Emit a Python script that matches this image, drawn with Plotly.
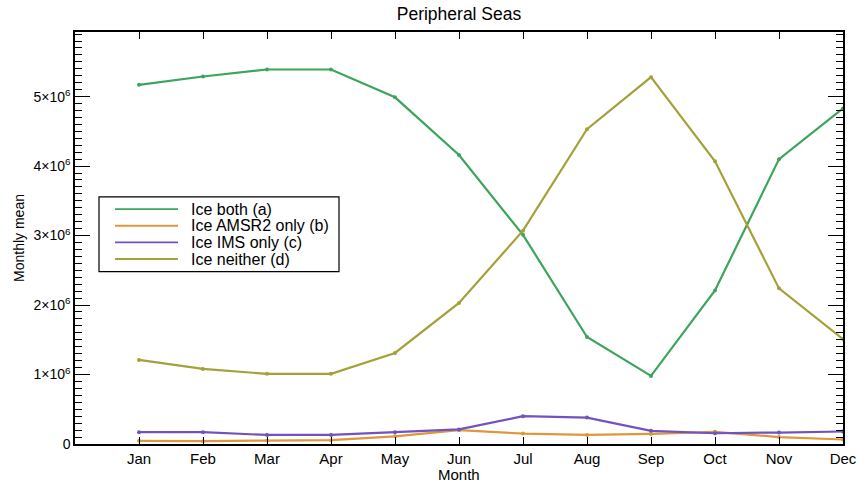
import plotly.graph_objects as go

months = ["Jan", "Feb", "Mar", "Apr", "May", "Jun", "Jul", "Aug", "Sep", "Oct", "Nov", "Dec"]
month_pos = [1, 2, 3, 4, 5, 6, 7, 8, 9, 10, 11, 12]

ice_both = [5.17e6, 5.29e6, 5.39e6, 5.39e6, 4.99e6, 4.16e6, 3.01e6, 1.54e6, 0.98e6, 2.21e6, 4.10e6, 4.83e6]
ice_amsr2_only = [0.045e6, 0.04e6, 0.05e6, 0.055e6, 0.11e6, 0.20e6, 0.15e6, 0.13e6, 0.145e6, 0.175e6, 0.10e6, 0.065e6]
ice_ims_only = [0.17e6, 0.17e6, 0.13e6, 0.13e6, 0.17e6, 0.21e6, 0.40e6, 0.38e6, 0.19e6, 0.155e6, 0.165e6, 0.18e6]
ice_neither = [1.21e6, 1.08e6, 1.01e6, 1.01e6, 1.31e6, 2.03e6, 3.07e6, 4.53e6, 5.28e6, 4.07e6, 2.24e6, 1.51e6]

series_names = ["Ice both (a)", "Ice AMSR2 only (b)", "Ice IMS only (c)", "Ice neither (d)"]
series_vals = [ice_both, ice_amsr2_only, ice_ims_only, ice_neither]
colors = ["#3CA55C", "#DE973C", "#7052C0", "#A3A13A"]

ytick_vals = [0, 1e6, 2e6, 3e6, 4e6, 5e6]
ytick_text = ["0", "1×10<sup>6</sup>", "2×10<sup>6</sup>", "3×10<sup>6</sup>", "4×10<sup>6</sup>", "5×10<sup>6</sup>"]

FONT = "Liberation Sans, Arial, sans-serif"

fig = go.Figure()
for name, vals, col in zip(series_names, series_vals, colors):
    fig.add_trace(go.Scatter(
        x=month_pos, y=vals, name=name, mode="lines+markers",
        line=dict(color=col, width=2.2),
        marker=dict(color=col, size=4),
        showlegend=False, cliponaxis=False,
    ))

W, H = 858, 482
ml, mr, mt, mb = 75, 15, 32, 37.5
pw, ph = W - ml - mr, H - mt - mb

def px(x):  # page x -> paper
    return (x - ml) / pw

def py(y):  # page y -> paper
    return 1 - (y - mt) / ph

shapes = [dict(type="rect", xref="paper", yref="paper",
               x0=px(99), x1=px(339), y0=py(272), y1=py(197),
               line=dict(color="black", width=1.2), fillcolor="white")]
annotations = []
ys = [209.3, 226, 242.7, 259.3]
for name, col, yy in zip(series_names, colors, ys):
    shapes.append(dict(type="line", xref="paper", yref="paper",
                       x0=px(115), x1=px(178), y0=py(yy), y1=py(yy),
                       line=dict(color=col, width=1.8)))
    annotations.append(dict(xref="paper", yref="paper", x=px(189), y=py(yy),
                            text=name, showarrow=False, xanchor="left", yanchor="middle",
                            font=dict(family=FONT, size=16, color="black")))

# x-axis title placed just below the tick labels, as in the reference
annotations.append(dict(xref="paper", yref="paper", x=0.5, y=py(475),
                        text="Month", showarrow=False, xanchor="center", yanchor="middle",
                        font=dict(family=FONT, size=15, color="black")))

fig.update_layout(
    width=W, height=H,
    margin=dict(l=ml, r=mr, t=mt, b=mb, autoexpand=False),
    paper_bgcolor="white", plot_bgcolor="white",
    font=dict(family=FONT, size=14, color="black"),
    title=dict(text="Peripheral Seas", x=0.5, xanchor="center", xref="paper",
               y=1 - 14 / H, yanchor="middle", font=dict(size=17.5, color="black"), automargin=False),
    shapes=shapes,
    annotations=annotations,
    xaxis=dict(range=[0, 12], tickvals=month_pos, ticktext=months, automargin=False,
               showgrid=False, zeroline=False, showline=True, linecolor="black", linewidth=1.5,
               mirror="ticks", ticks="inside", ticklen=7, tickwidth=1.2, tickcolor="black",
               tickfont=dict(size=15)),
    yaxis=dict(range=[0, 5.93e6], tickvals=ytick_vals, ticktext=ytick_text, automargin=False,
               showgrid=False, zeroline=False, showline=True, linecolor="black", linewidth=1.5,
               mirror="ticks", ticks="inside", ticklen=15, tickwidth=1.2, tickcolor="black",
               tickfont=dict(size=14),
               minor=dict(dtick=1e5, ticks="inside", ticklen=7, tickwidth=1, tickcolor="black", showgrid=False),
               title=dict(text="Monthly mean", font=dict(size=14), standoff=6)),
)

fig.write_html(
    "out.html",
    config={"displayModeBar": False},
    post_script="document.body.style.margin='0';document.body.style.overflow='hidden';",
)
